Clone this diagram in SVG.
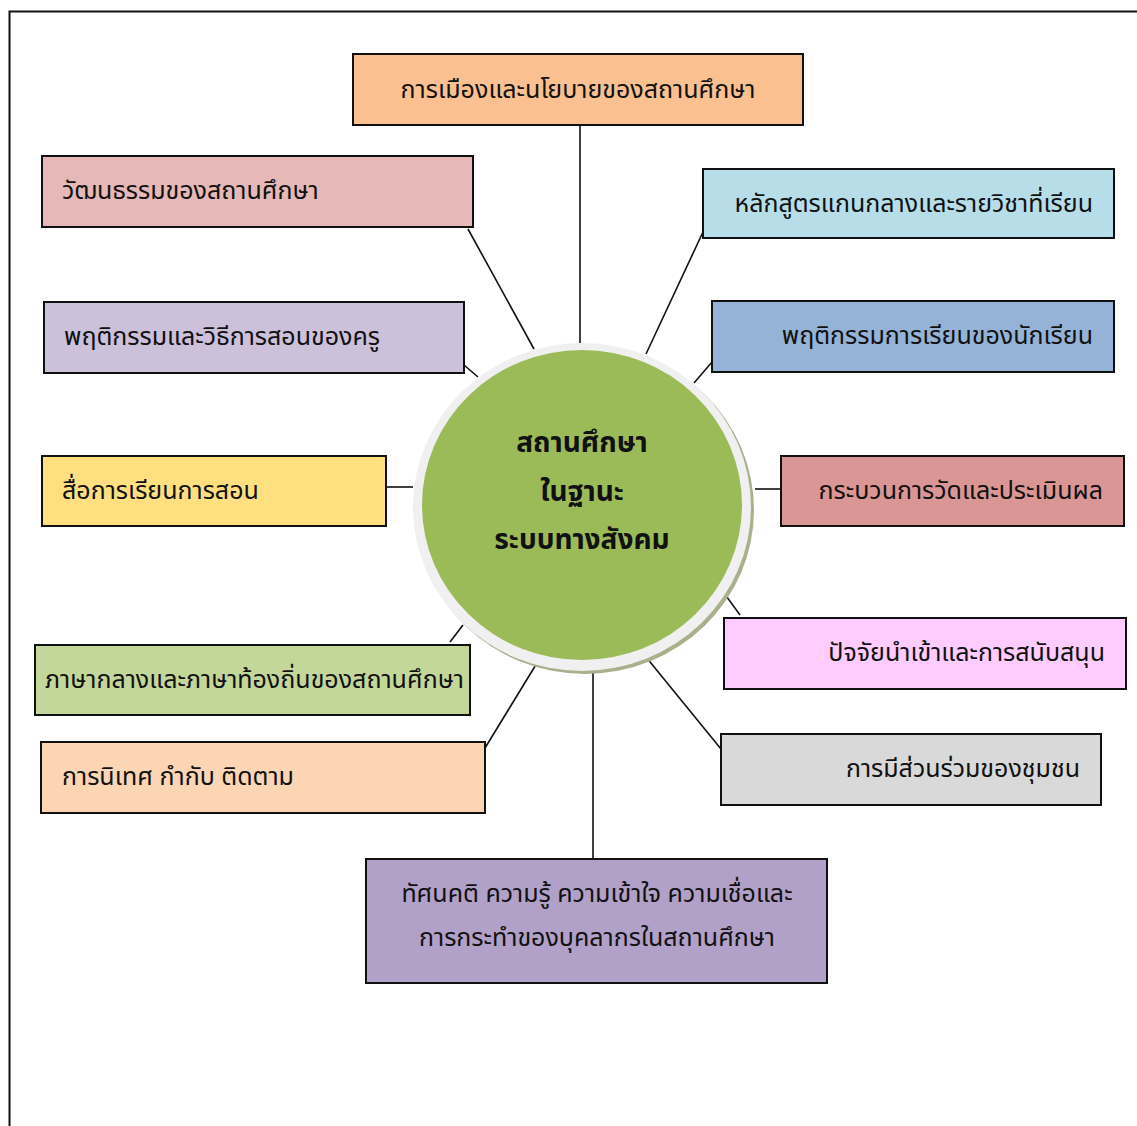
<svg xmlns="http://www.w3.org/2000/svg" width="1137" height="1126" viewBox="0 0 1137 1126">
<defs>
<style>
.box{stroke:#111;stroke-width:2}
.t{font-family:"Noto Sans","Noto Sans Thai","DejaVu Sans",sans-serif;font-size:25px;fill:#111}
.c{font-family:"Noto Sans","Noto Sans Thai","DejaVu Sans",sans-serif;font-size:28px;font-weight:bold;fill:#111;text-anchor:middle}
.ln{stroke:#111;stroke-width:1.6;fill:none}
</style>
</defs>
<rect width="1137" height="1126" fill="#fff"/>
<path d="M9.5 1126 V11.5 H1137" fill="none" stroke="#111" stroke-width="2"/>
<g id="connectors">
<line class="ln" x1="580" y1="125" x2="580" y2="343"/>
<line class="ln" x1="468" y1="229" x2="534" y2="349"/>
<line class="ln" x1="703" y1="232" x2="646" y2="354"/>
<line class="ln" x1="464" y1="365" x2="478" y2="377"/>
<line class="ln" x1="712" y1="362" x2="694" y2="383"/>
<line class="ln" x1="386" y1="487" x2="413" y2="487"/>
<line class="ln" x1="755" y1="489" x2="781" y2="489"/>
<line class="ln" x1="724" y1="593" x2="740" y2="615"/>
<line class="ln" x1="463" y1="625" x2="450" y2="642"/>
<line class="ln" x1="537" y1="663" x2="485" y2="748"/>
<line class="ln" x1="646" y1="657" x2="721" y2="749"/>
<line class="ln" x1="593" y1="668" x2="593" y2="859"/>
</g>
<g id="center">
<ellipse cx="585" cy="510" rx="169" ry="164" fill="#a9b08c"/>
<ellipse cx="582" cy="507" rx="169" ry="164" fill="#f0f0f0"/>
<ellipse cx="582" cy="505" rx="160" ry="155" fill="#9bbb59"/>
<text class="c" x="582" y="452">สถานศึกษา</text>
<text class="c" x="582" y="501">ในฐานะ</text>
<text class="c" x="582" y="549">ระบบทางสังคม</text>
</g>
<g id="n1"><rect class="box" x="353" y="54" width="450" height="71" fill="#fac090"/><text class="t" x="578" y="98" text-anchor="middle">การเมืองและนโยบายของสถานศึกษา</text></g>
<g id="n2"><rect class="box" x="42" y="156" width="431" height="71" fill="#e6b8b7"/><text class="t" x="62" y="199">วัฒนธรรมของสถานศึกษา</text></g>
<g id="n3"><rect class="box" x="703" y="169" width="411" height="69" fill="#b7dee8"/><text class="t" x="1093" y="212" text-anchor="end">หลักสูตรแกนกลางและรายวิชาที่เรียน</text></g>
<g id="n4"><rect class="box" x="44" y="302" width="420" height="71" fill="#ccc0da"/><text class="t" x="64" y="345">พฤติกรรมและวิธีการสอนของครู</text></g>
<g id="n5"><rect class="box" x="712" y="301" width="402" height="71" fill="#95b3d7"/><text class="t" x="1093" y="344" text-anchor="end">พฤติกรรมการเรียนของนักเรียน</text></g>
<g id="n6"><rect class="box" x="42" y="456" width="344" height="70" fill="#ffdf7f"/><text class="t" x="62" y="499">สื่อการเรียนการสอน</text></g>
<g id="n7"><rect class="box" x="781" y="456" width="343" height="70" fill="#da9694"/><text class="t" x="1103" y="499" text-anchor="end">กระบวนการวัดและประเมินผล</text></g>
<g id="n8"><rect class="box" x="724" y="618" width="402" height="71" fill="#ffccff"/><text class="t" x="1105" y="661" text-anchor="end">ปัจจัยนำเข้าและการสนับสนุน</text></g>
<g id="n9"><rect class="box" x="35" y="645" width="435" height="70" fill="#c4d79b"/><text class="t" x="45" y="688">ภาษากลางและภาษาท้องถิ่นของสถานศึกษา</text></g>
<g id="n10"><rect class="box" x="41" y="742" width="444" height="71" fill="#fcd5b4"/><text class="t" x="62" y="785">การนิเทศ กำกับ ติดตาม</text></g>
<g id="n11"><rect class="box" x="721" y="734" width="380" height="71" fill="#d9d9d9"/><text class="t" x="1080" y="777" text-anchor="end">การมีส่วนร่วมของชุมชน</text></g>
<g id="n12"><rect class="box" x="366" y="859" width="461" height="124" fill="#b1a0c7"/><text class="t" x="597" y="902" text-anchor="middle">ทัศนคติ ความรู้ ความเข้าใจ ความเชื่อและ</text><text class="t" x="597" y="946" text-anchor="middle">การกระทำของบุคลากรในสถานศึกษา</text></g>
</svg>
